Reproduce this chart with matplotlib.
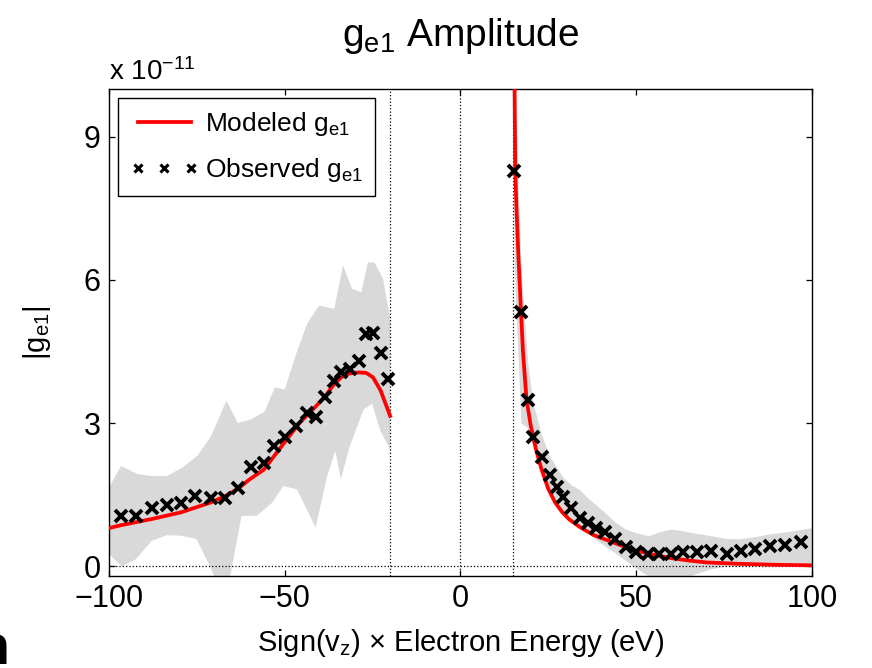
import matplotlib
matplotlib.use('Agg')
import matplotlib.pyplot as plt

plt.rcParams['font.family'] = ['Liberation Sans', 'DejaVu Sans']
plt.rcParams['mathtext.default'] = 'regular'

# observed |g_e1| (units of 1e-11), negative side and positive side
obs_x = [-96.6, -92.3, -87.8, -83.5, -79.5, -75.4, -70.9, -66.9, -63.2, -59.5,
         -55.9, -53.1, -49.8, -46.7, -43.6, -41.0, -38.4, -36.0, -33.9, -31.5,
         -28.9, -26.8, -24.9, -22.7, -20.6,
         15.3, 17.2, 19.1, 20.7, 23.1, 25.4, 27.6, 29.3, 31.6, 34.0, 36.4, 38.7,
         41.2, 44.1, 47.0, 50.1, 53.5, 56.5, 59.9, 63.4, 67.2, 71.3, 75.8, 79.9,
         83.8, 88.1, 92.4, 96.9]
obs_y = [1.05, 1.05, 1.23, 1.28, 1.33, 1.47, 1.42, 1.44, 1.63, 2.07,
         2.16, 2.51, 2.70, 2.94, 3.20, 3.13, 3.54, 3.89, 4.07, 4.13,
         4.30, 4.86, 4.88, 4.46, 3.92,
         8.27, 5.32, 3.49, 2.71, 2.29, 1.91, 1.67, 1.45, 1.23, 1.02, 0.90, 0.81,
         0.71, 0.58, 0.40, 0.29, 0.25, 0.25, 0.26, 0.29, 0.29, 0.32, 0.25, 0.32,
         0.37, 0.42, 0.45, 0.50]

# modeled |g_e1|
mod_left_x = [-100, -96.6, -87.8, -79.5, -75.4, -70.9, -66.9, -63.2, -60, -56, -50,
              -45.7, -41, -38.4, -36, -33.9, -31.5, -28.9, -26.8, -24.9, -22.7, -20]
mod_left_y = [0.80, 0.86, 0.99, 1.13, 1.23, 1.34, 1.47, 1.63, 1.82, 2.02, 2.60,
              3.01, 3.36, 3.57, 3.81, 3.96, 4.04, 4.06, 4.05, 3.96, 3.68, 3.15]
mod_right_x = [15.4, 15.6, 16.0, 16.5, 17.2, 17.8, 18.8, 20.0, 21.5, 23.0, 25.0, 27.0,
               29.0, 31.0, 34, 38, 42, 46, 50, 55, 60, 65, 70, 80, 90, 100]
mod_right_y = [10.2, 8.3, 7.4, 6.5, 5.4, 4.5, 3.5, 2.95, 2.45, 2.05, 1.62, 1.33,
               1.13, 0.98, 0.82, 0.65, 0.54, 0.43, 0.33, 0.24, 0.17, 0.12, 0.08, 0.05, 0.03, 0.02]

# spread of observations (grey band)
band_left_up_x = [-100, -96.6, -91.8, -87.9, -83.5, -79.1, -74.9, -70.9, -66.6, -63.3,
                  -59.5, -55.7, -52.8, -50, -46.5, -43.5, -40.2, -35.9, -33.4, -30.8,
                  -28.2, -26.3, -24.4, -22.0, -20]
band_left_up_y = [1.65, 2.10, 1.93, 1.89, 1.89, 2.07, 2.31, 2.73, 3.47, 3.0,
                  3.08, 3.24, 3.75, 3.70, 4.5, 5.1, 5.46, 5.39, 6.30, 5.81,
                  5.74, 6.37, 6.36, 6.02, 5.2]
band_left_lo_x = [-100, -96.3, -92.3, -87.9, -83.6, -79.4, -75.1, -70.9, -69, -66,
                  -62.3, -57.9, -53.6, -50.4, -46.5, -41.2, -37.9, -35.6, -34.0, -31.6,
                  -27.5, -25.1, -22.8, -20]
band_left_lo_y = [0.25, 0.0, 0.15, 0.53, 0.65, 0.64, 0.57, -0.06, -0.4, -0.4,
                  1.05, 1.06, 1.33, 1.68, 1.61, 0.81, 1.89, 2.42, 1.82, 2.49,
                  3.29, 3.40, 2.84, 2.45]
band_right_x = [15.3, 17.2, 19.1, 20.7, 23.1, 25.4, 27.6, 29.3, 31.6, 34.0, 36.4, 38.7,
                41.2, 44.1, 47.0, 50.1, 53.5, 56.5, 59.9, 63.4, 67.2, 71.3, 75.8, 79.9,
                83.8, 88.1, 92.4, 96.9, 100]
band_right_up = [10.5, 6.3, 4.3, 3.4, 2.75, 2.3, 2.05, 1.85, 1.7, 1.6, 1.42, 1.28,
                 1.12, 0.92, 0.78, 0.70, 0.64, 0.72, 0.78, 0.74, 0.69, 0.64, 0.58, 0.58,
                 0.62, 0.68, 0.72, 0.77, 0.81]
band_right_lo = [6.3, 3.0, 2.9, 2.5, 1.95, 1.55, 1.25, 1.1, 0.95, 0.82, 0.70, 0.55,
                 0.42, 0.28, 0.12, -0.05, -0.2, -0.3, -0.3, -0.25, -0.15, -0.05, 0.0, 0.0,
                 0.01, 0.02, 0.02, 0.03, 0.03]

fig = plt.figure(figsize=(8.72, 6.68), dpi=100)
ax = fig.add_axes([0.125, 0.138, 0.806, 0.729])

grey = '#d9d9d9'
ax.fill(band_left_up_x + band_left_lo_x[::-1], band_left_up_y + band_left_lo_y[::-1],
        color=grey, lw=0, zorder=1)
ax.fill_between(band_right_x, band_right_lo, band_right_up, color=grey, lw=0, zorder=1)

# dotted guide lines
for xv in [-20, 0, 15]:
    ax.axvline(xv, color='black', ls=':', lw=0.9, zorder=2)
ax.axhline(0, color='black', ls=':', lw=0.9, zorder=2)

ax.plot(mod_left_x, mod_left_y, color='red', lw=2.7, zorder=3, label='Modeled g$_{e1}$')
ax.plot(mod_right_x, mod_right_y, color='red', lw=2.7, zorder=3)
ax.plot(obs_x, obs_y, ls='none', marker='x', color='black', ms=8, mew=2.8, zorder=4,
        label='Observed g$_{e1}$')

ax.set_xlim(-100, 100)
ax.set_ylim(-0.2, 10)
ax.set_xticks([-100, -50, 0, 50, 100])
ax.set_xticklabels(['\u2212100', '\u221250', '0', '50', '100'])
ax.set_yticks([0, 3, 6, 9])
ax.tick_params(direction='in', top=True, right=True, length=4.5, width=0.9,
               labelsize=22, pad=6)
for s in ax.spines.values():
    s.set_linewidth(1.0)

ax.set_xlabel('Sign(v$_z$) \u00d7 Electron Energy (eV)', fontsize=21, labelpad=9)
ax.set_ylabel('|g$_{e1}$|', fontsize=21)
ax.yaxis.set_label_coords(-0.08, 0.5)
ax.set_title('g$_{e1}$ Amplitude', fontsize=28, pad=31)
ax.text(0.0, 1.018, 'x 10$^{\u221211}$', transform=ax.transAxes, fontsize=20,
        ha='left', va='baseline')

leg = ax.legend(loc='upper left', numpoints=3, fancybox=False, edgecolor='black',
                framealpha=1, fontsize=19, handlelength=2.6, borderaxespad=0.35,
                handletextpad=0.25, labelspacing=0.7, borderpad=0.45)
leg.legend_handles[1].set_markersize(6)
leg.legend_handles[1].set_markeredgewidth(2.2)

# piece of a neighbouring panel label at the lower-left edge
fig.text(9 / 872, 1 - 664 / 668, 'n', ha='right', va='baseline', fontsize=40,
         fontweight='bold')

fig.savefig('out.png', dpi=100)
